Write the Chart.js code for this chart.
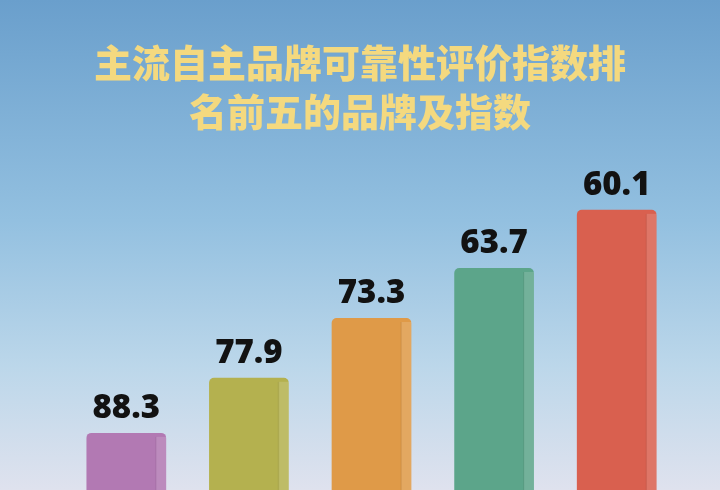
<!DOCTYPE html>
<html>
<head>
<meta charset="utf-8">
<script src="https://cdn.jsdelivr.net/npm/chart.js@4/dist/chart.umd.min.js"></script>
<style>
  html, body { margin: 0; padding: 0; }
  #chart-bars { display: block; }
</style>
</head>
<body>
<canvas id="chart-bars" width="720" height="490"></canvas>
<script>
var brands = ["第一", "第二", "第三", "第四", "第五"];
var indexValues = ["88.3", "77.9", "73.3", "63.7", "60.1"];
// visual bar heights of the poster (rank order, not to scale with the index)
var barHeights = [16.8, 33, 50.6, 65.3, 82.4];
var barColors = ["#b279b3", "#b4b14f", "#df9a48", "#5ca58a", "#d9604f"];
var titleLines = ["主流自主品牌可靠性评价指数排", "名前五的品牌及指数"];

var posterPlugin = {
    id: "poster",
    beforeDraw: function(chart) {
        var ctx = chart.ctx;
        var g = ctx.createLinearGradient(0, 0, 0, chart.height);
        g.addColorStop(0, "#6a9fcc");
        g.addColorStop(0.45, "#93c0e0");
        g.addColorStop(0.75, "#bcd7ea");
        g.addColorStop(1, "#dfe2ee");
        ctx.save();
        ctx.fillStyle = g;
        ctx.fillRect(0, 0, chart.width, chart.height);

        ctx.fillStyle = "#f4d97f";
        ctx.font = "900 38px 'Noto Sans CJK SC'";
        ctx.textAlign = "center";
        ctx.textBaseline = "middle";
        ctx.fillText(titleLines[0], chart.width / 2, 63);
        ctx.fillText(titleLines[1], chart.width / 2, 112);
        ctx.restore();
    },
    afterDatasetsDraw: function(chart) {
        var ctx = chart.ctx;
        var bars = chart.getDatasetMeta(0).data;
        ctx.save();
        bars.forEach(function(bar, i) {
            var p = bar.getProps(["x", "y", "base", "width"], true);
            var right = p.x + p.width / 2;
            // lighter side face
            ctx.fillStyle = "rgba(255,255,255,0.14)";
            ctx.fillRect(right - 10, p.y + 4, 10, p.base - p.y - 4);
            ctx.fillStyle = "rgba(0,0,0,0.05)";
            ctx.fillRect(right - 11, p.y + 4, 1.5, p.base - p.y - 4);

            ctx.fillStyle = "#121212";
            ctx.font = "800 33px 'Open Sans'";
            ctx.textAlign = "center";
            ctx.textBaseline = "alphabetic";
            ctx.fillText(indexValues[i], p.x, p.y - 15);
        });
        ctx.restore();
    }
};

var barsCtx = document.getElementById("chart-bars").getContext("2d");

new Chart(barsCtx, {
    type: "bar",
    data: {
        labels: brands,
        datasets: [{
            data: barHeights,
            backgroundColor: barColors,
            borderRadius: { topLeft: 5, topRight: 5 },
            borderSkipped: "bottom",
            barPercentage: 0.65,
            categoryPercentage: 1
        }]
    },
    options: {
        responsive: false,
        animation: false,
        layout: { padding: { top: 150, left: 65, right: 42, bottom: 0 } },
        plugins: {
            legend: { display: false },
            title: { display: false },
            tooltip: { enabled: false }
        },
        scales: {
            x: { display: false },
            y: { display: false, min: 0, max: 100 }
        }
    },
    plugins: [posterPlugin]
});
</script>
</body>
</html>
